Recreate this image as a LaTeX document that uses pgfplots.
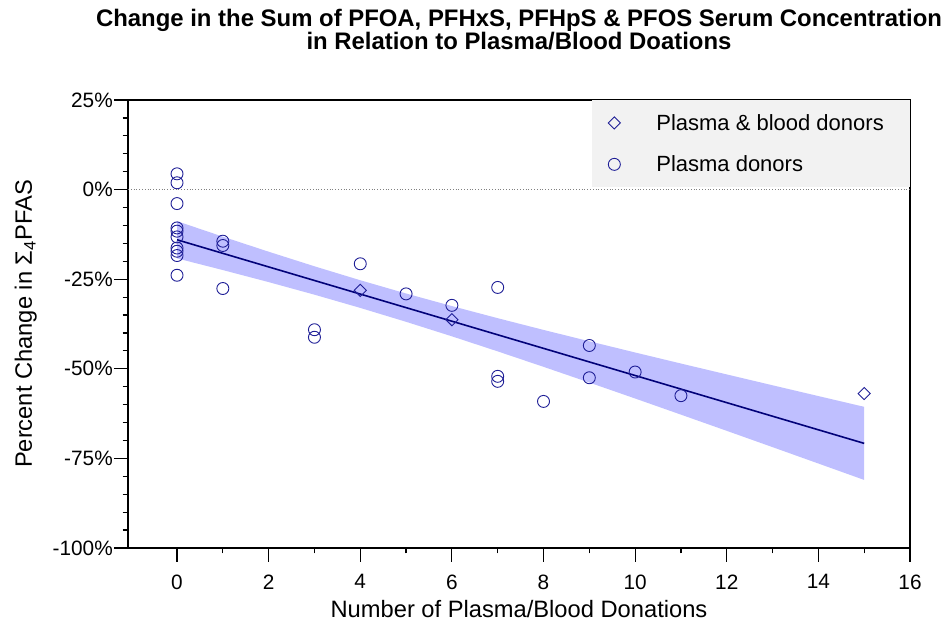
\documentclass[border=0pt]{standalone}
\usepackage{pgfplots}
\pgfplotsset{compat=1.18}
\usepackage{fontspec}
\setmainfont{Liberation Sans}

\definecolor{mk}{RGB}{30,30,150}
\definecolor{fitline}{RGB}{0,0,120}
\definecolor{band}{RGB}{191,191,255}

% marker only, but keep a wide image so the text starts further right
\pgfplotsset{mklegend/.style={legend image code/.code={%
  \path[draw=none,fill=none] (0pt,-1pt) rectangle (60pt,1pt);
  \draw[mark repeat=2,mark phase=2,#1,only marks] plot coordinates {(0pt,0pt)(20pt,0pt)(60pt,0pt)};}}}

\begin{document}
\begin{tikzpicture}
\useasboundingbox (0,0) rectangle (945pt,623pt);
\begin{axis}[
  at={(128pt,75pt)}, anchor=south west,
  scale only axis, width=782pt, height=448pt,
  xmin=-1.07, xmax=16, ymin=-100, ymax=25,
  xtick={0,2,...,16}, minor x tick num=1,
  ytick={-100,-75,-50,-25,0,25}, minor y tick num=4,
  yticklabels={-100\%,-75\%,-50\%,-25\%,0\%,25\%},
  xtick pos=left, ytick pos=left,
  tick align=outside,
  major tick length=14pt, minor tick length=5.5pt,
  every tick/.style={black, line width=1.2pt},
  axis line style={line width=1.3pt},
  /pgf/number format/assume math mode=true,
  tick label style={font=\fontsize{20.8}{24}\selectfont},
  yticklabel style={inner xsep=1pt},
  xticklabel style={yshift=-9pt},
  xlabel={Number of Plasma/Blood Donations},
  ylabel={Percent Change in Σ\textsubscript{4}PFAS},
  label style={font=\fontsize{23.7}{28}\selectfont},
  xlabel style={at={(axis description cs:0.5,0)}, anchor=base, yshift=-70pt},
  ylabel style={at={(axis description cs:0,0.5)}, anchor=base, yshift=96pt},
  legend style={at={(1,1)}, anchor=north east, fill=black!5, draw=none,
    font=\fontsize{22}{26}\selectfont, inner xsep=2pt, inner ysep=12pt,
    row sep=20pt, cells={anchor=west}},
]
% confidence band
\addplot[fill=band, draw=none, forget plot] coordinates {
(0,-8.81)(1,-13.13)(2,-17.33)(3,-21.40)(4,-25.29)(5,-28.99)(6,-32.50)(7,-35.88)
(8,-39.15)(9,-42.32)(10,-45.45)(11,-48.53)(12,-51.57)(13,-54.60)(14,-57.61)(15,-60.61)
(15,-81.01)(14,-76.43)(13,-71.86)(12,-67.31)(11,-62.79)(10,-58.29)(9,-53.84)(8,-49.45)
(7,-45.14)(6,-40.94)(5,-36.89)(4,-33.01)(3,-29.32)(2,-25.81)(1,-22.45)(0,-19.19)} -- cycle;
% zero line
\addplot[gray, dotted, line width=0.8pt, forget plot] coordinates {(-1.07,0)(16,0)};
% regression line
\addplot[fitline, line width=1.6pt, forget plot] coordinates {(0,-14.0)(15,-70.81)};
% plasma & blood donors
\addplot[only marks, mklegend, mark=square, mark size=4.3pt, mark options={rotate=45, draw=mk, line width=0.9pt}]
coordinates {(4,-28.1)(6,-36.3)(15,-56.9)};
\addlegendentry{Plasma \& blood donors\hspace*{22pt}}
% plasma donors
\addplot[only marks, mklegend, mark=o, mark size=6pt, mark options={draw=mk, line width=0.9pt}]
coordinates {
(0,4.4)(0,1.9)(0,-3.9)(0,-10.7)(0,-11.6)(0,-13.2)(0,-16.3)(0,-17.2)(0,-18.4)(0,-23.9)
(1,-14.4)(1,-15.6)(1,-27.6)
(3,-39.1)(3,-41.2)
(4,-20.7)
(5,-29.1)
(6,-32.3)
(7,-27.3)(7,-52.1)(7,-53.5)
(8,-59.1)
(9,-43.5)(9,-52.5)
(10,-50.9)
(11,-57.5)};
\addlegendentry{Plasma donors}
\end{axis}
\node[anchor=base, font=\bfseries\fontsize{23.9}{28}\selectfont] at (519pt,596pt)
  {Change in the Sum of PFOA, PFHxS, PFHpS \& PFOS Serum Concentration};
\node[anchor=base, font=\bfseries\fontsize{23.9}{28}\selectfont] at (519pt,573pt)
  {in Relation to Plasma/Blood Doations};
\end{tikzpicture}
\end{document}
